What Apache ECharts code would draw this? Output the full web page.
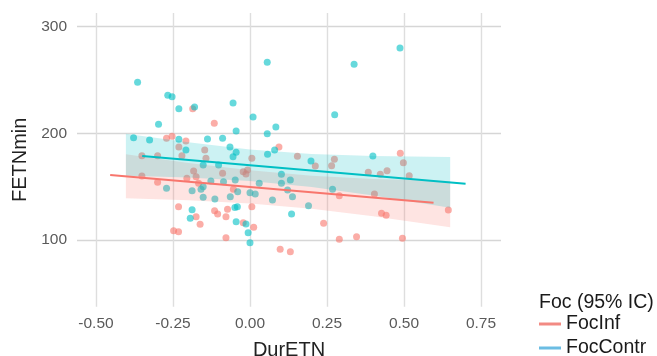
<!DOCTYPE html>
<html>
<head>
<meta charset="utf-8">
<script src="https://cdn.jsdelivr.net/npm/echarts@6/dist/echarts.min.js"></script>
<style>
  html, body { margin: 0; padding: 0; background: #fff; }
  #chart { width: 657px; height: 356px; }
</style>
</head>
<body>
<div id="chart"></div>
<script>
// Observations: [DurETN, FETNmin]
const focInfPoints = [
  [-0.186, 223.1], [-0.116, 209.4], [-0.271, 195.4], [-0.253, 197.3], [-0.208, 192.8],
  [-0.231, 187.2], [-0.147, 184.4], [0.094, 187.2], [-0.351, 179.1], [-0.300, 179.1],
  [0.006, 176.6], [0.154, 178.5], [0.274, 175.7], [0.488, 181.3], [-0.221, 179.1],
  [-0.143, 176.6], [-0.183, 164.7], [-0.175, 159.4], [-0.089, 162.5], [-0.022, 164.1],
  [-0.013, 161.9], [-0.008, 165.7], [-0.205, 157.9], [-0.167, 153.2], [-0.351, 160.0],
  [-0.300, 154.1], [-0.054, 147.6], [-0.232, 131.3], [-0.175, 121.9], [-0.162, 114.8],
  [-0.115, 127.5], [-0.105, 124.4], [-0.078, 121.9], [-0.073, 128.9], [-0.022, 116.3],
  [0.006, 131.3], [0.012, 111.9], [-0.248, 108.8], [-0.232, 107.8], [-0.078, 102.2],
  [0.098, 91.3], [0.131, 89.1], [0.212, 169.4], [0.265, 169.7], [0.498, 172.5],
  [0.384, 163.5], [0.423, 161.6], [0.445, 165.0], [0.517, 160.3], [0.290, 141.6],
  [0.404, 143.2], [0.427, 125.0], [0.442, 123.2], [0.644, 128.1], [0.239, 115.7],
  [0.290, 100.7], [0.346, 103.1], [0.495, 101.6]
];
const focContrPoints = [
  [-0.365, 247.9], [-0.267, 235.7], [-0.253, 234.4], [-0.231, 223.1], [-0.180, 224.7],
  [-0.055, 228.5], [-0.297, 208.5], [0.010, 215.3], [0.056, 266.6], [0.084, 206.0],
  [-0.045, 202.2], [0.056, 199.7], [-0.378, 195.9], [-0.326, 193.8], [-0.231, 194.4],
  [-0.138, 194.7], [-0.089, 195.4], [-0.208, 184.4], [-0.065, 187.2], [-0.045, 182.2],
  [-0.055, 178.1], [0.080, 184.4], [0.057, 180.4], [0.487, 280.0], [0.338, 264.7],
  [0.275, 217.5], [0.399, 178.8], [0.198, 174.0], [-0.152, 170.3], [-0.102, 170.3],
  [0.030, 153.2], [-0.048, 156.3], [-0.086, 154.7], [-0.127, 155.4], [-0.152, 150.0],
  [-0.159, 147.6], [-0.188, 146.3], [-0.271, 148.5], [-0.040, 145.3], [-0.064, 140.6],
  [0.000, 144.4], [0.017, 143.2], [-0.152, 140.0], [-0.114, 138.5], [0.073, 137.5],
  [0.102, 161.6], [0.131, 156.3], [0.102, 153.2], [0.122, 146.9], [0.138, 140.6],
  [0.135, 124.4], [-0.188, 128.4], [-0.194, 120.4], [-0.049, 130.6], [-0.041, 131.3],
  [-0.045, 117.2], [-0.013, 115.0], [-0.006, 106.9], [0.000, 97.5], [0.268, 147.6],
  [0.190, 132.2]
];

// Fitted lines (end points) and 95% confidence bands
const focInfFit = [[-0.454, 161.0], [0.596, 135.0]];
const focContrFit = [[-0.350, 178.8], [0.700, 152.8]];

const bandX = [-0.403, -0.20, 0.00, 0.20, 0.40, 0.650];
const focInfLower = [139.1, 137.2, 134.3, 129.3, 122.3, 111.9];
const focInfUpper = [180.3, 172.2, 165.3, 160.3, 157.3, 155.3];
const focContrLower = [160.3, 158.6, 155.3, 149.7, 141.7, 130.2];
const focContrUpper = [199.7, 191.6, 184.9, 180.7, 178.7, 177.8];

const xTicks = [-0.5, -0.25, 0, 0.25, 0.5, 0.75];
const yTicks = [100, 200, 300];

const RED = '#F8766D';
const CYAN = '#00BFC4';
const FONT = '"Liberation Sans", Arial, Helvetica, sans-serif';

// Confidence ribbon as one polygon: upper edge left→right, lower edge back.
function bandSeries(name, lower, upper, fill) {
  const rows = bandX.map((x, i) => [x, lower[i], upper[i]]);
  return {
    name: name, type: 'custom', z: 3, silent: true,
    data: rows,
    encode: { x: 0, y: [1, 2] },
    renderItem: function (params, api) {
      if (params.dataIndex !== 0) return null;
      const top = rows.map(r => api.coord([r[0], r[2]]));
      const bottom = rows.map(r => api.coord([r[0], r[1]])).reverse();
      return {
        type: 'polygon',
        shape: { points: top.concat(bottom) },
        style: { fill: fill, stroke: null }
      };
    }
  };
}

const chart = echarts.init(document.getElementById('chart'), null, { renderer: 'canvas' });

const legendText = { fontSize: 19.5, color: '#1a1a1a', fontFamily: FONT };

chart.setOption({
  animation: false,
  backgroundColor: '#ffffff',
  textStyle: { fontFamily: FONT },
  grid: { left: 77, right: 156, top: 13, bottom: 49.3, containLabel: false, outerBoundsMode: 'none' },
  xAxis: {
    type: 'value',
    min: -0.5617, max: 0.815,
    name: 'DurETN',
    nameLocation: 'middle',
    nameGap: 33.5,
    nameTextStyle: { fontSize: 20, color: '#222', fontFamily: FONT },
    axisLine: { show: false },
    axisTick: { show: false, customValues: xTicks },
    axisLabel: {
      customValues: xTicks,
      margin: 9,
      fontSize: 15.5, color: '#5a5a5a', fontFamily: FONT,
      formatter: v => v.toFixed(2)
    },
    splitLine: { show: true, lineStyle: { color: '#dedede', width: 1.4 } }
  },
  yAxis: {
    type: 'value',
    min: 37.5, max: 312.8,
    name: 'FETNmin',
    nameLocation: 'middle',
    nameGap: 42,
    nameRotate: 90,
    nameTextStyle: { fontSize: 20, color: '#222', fontFamily: FONT },
    axisLine: { show: false },
    axisTick: { show: false, customValues: yTicks },
    axisLabel: {
      customValues: yTicks,
      margin: 10,
      fontSize: 15.5, color: '#5a5a5a', fontFamily: FONT
    },
    splitLine: { show: true, lineStyle: { color: '#d6d6d6', width: 1.4 } }
  },
  legend: [
    {
      left: 539, top: 314,
      padding: 0,
      itemWidth: 22, itemHeight: 3, icon: 'rect',
      textStyle: legendText,
      data: [{ name: 'FocInf', itemStyle: { color: '#f28a83' } }]
    },
    {
      left: 539, top: 338,
      padding: 0,
      itemWidth: 22, itemHeight: 3, icon: 'rect',
      textStyle: legendText,
      data: [{ name: 'FocContr', itemStyle: { color: '#6bbde3' } }]
    }
  ],
  graphic: [{
    type: 'text',
    left: 539, top: 293,
    style: { text: 'Foc (95% IC)', font: '19.5px ' + FONT, fill: '#1a1a1a' }
  }],
  series: [
    {
      name: 'FocInf-pts', type: 'scatter', z: 2,
      data: focInfPoints, symbolSize: 7, silent: true,
      itemStyle: { color: RED, opacity: 0.6 }
    },
    {
      name: 'FocContr-pts', type: 'scatter', z: 2,
      data: focContrPoints, symbolSize: 7, silent: true,
      itemStyle: { color: CYAN, opacity: 0.6 }
    },
    bandSeries('FocInf-ci', focInfLower, focInfUpper, 'rgba(248,118,109,0.2)'),
    bandSeries('FocContr-ci', focContrLower, focContrUpper, 'rgba(0,191,196,0.2)'),
    {
      name: 'FocInf', type: 'line', z: 4,
      data: focInfFit, showSymbol: false, silent: true,
      itemStyle: { color: RED },
      lineStyle: { color: RED, width: 2 }
    },
    {
      name: 'FocContr', type: 'line', z: 4,
      data: focContrFit, showSymbol: false, silent: true,
      itemStyle: { color: CYAN },
      lineStyle: { color: CYAN, width: 2 }
    }
  ]
});
</script>
</body>
</html>
